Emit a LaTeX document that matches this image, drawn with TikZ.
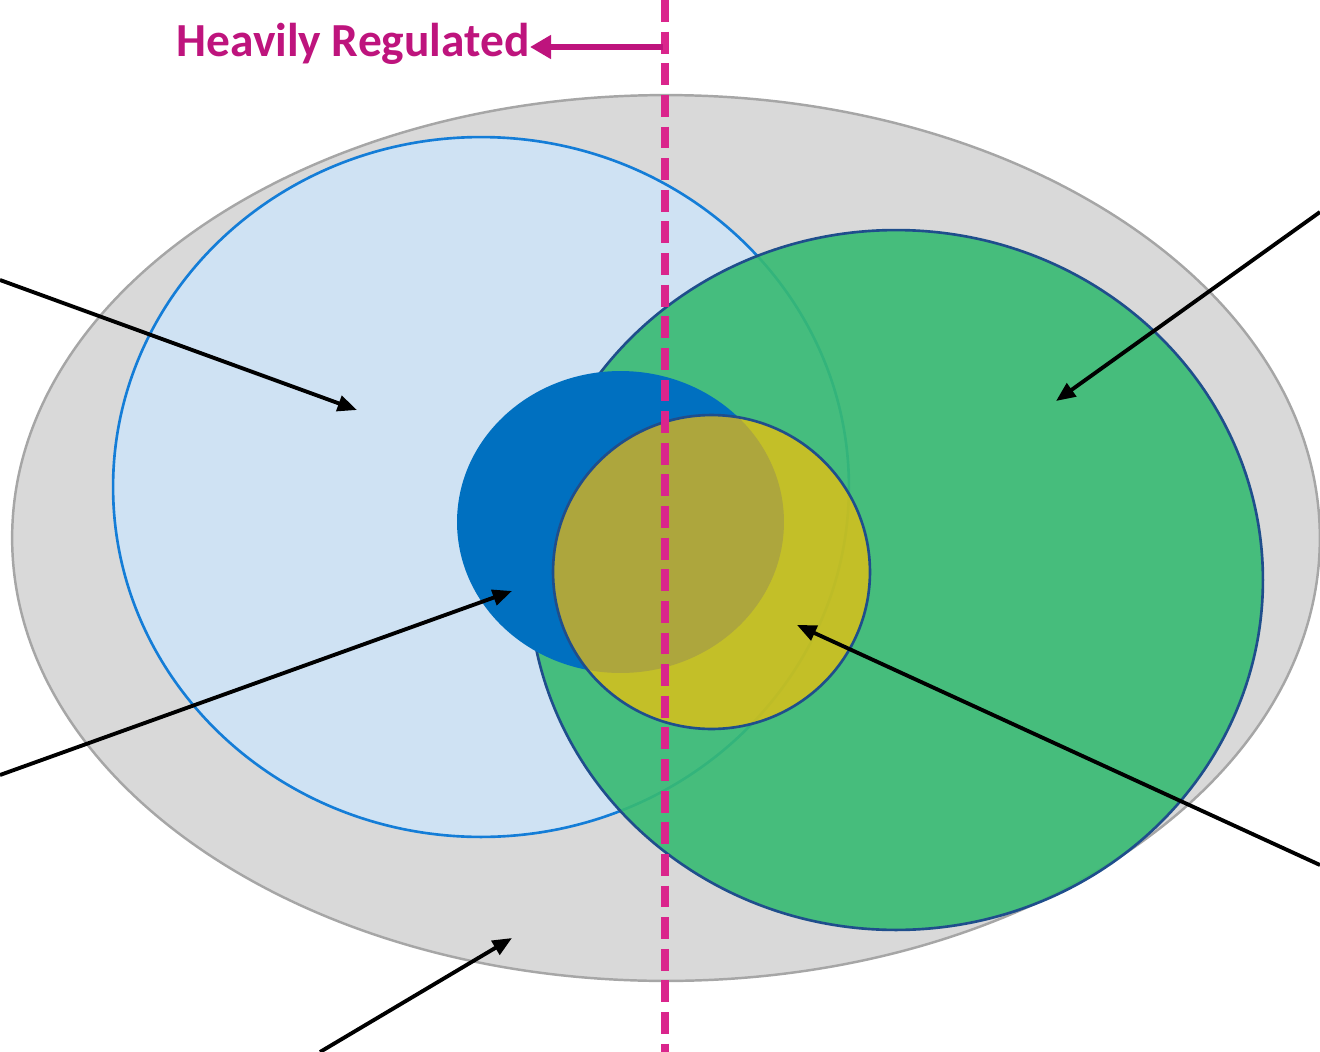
\documentclass[tikz,border=0pt]{standalone}
\usepackage{fontspec}
\setmainfont{Carlito}
\usetikzlibrary{arrows.meta}
\definecolor{grayfill}{RGB}{217,217,217}
\definecolor{graydraw}{RGB}{166,166,166}
\definecolor{lblue}{RGB}{207,226,243}
\definecolor{lbluedraw}{RGB}{20,125,215}
\definecolor{greenfill}{RGB}{55,186,114}
\definecolor{darkedge}{RGB}{31,78,140}
\definecolor{dblue}{RGB}{0,112,192}
\definecolor{gold}{RGB}{255,192,0}
\definecolor{pinkline}{RGB}{218,37,140}
\definecolor{magtext}{RGB}{190,20,125}
\tikzset{
  pointer/.style={draw=black, line width=2.2pt, -{Triangle[length=11pt,width=9pt]}},
  regarrow/.style={draw=magtext, line width=3.2pt, -{Triangle[length=12pt,width=13pt]}},
}
\begin{document}
\begin{tikzpicture}[x=0.02cm,y=-0.02cm]
\useasboundingbox (0,0) rectangle (1320,1052);
% outer gray ellipse
\fill[grayfill] (666,538) ellipse [x radius=13.08cm, y radius=8.86cm];
\draw[graydraw, line width=1.4pt] (666,538) ellipse [x radius=13.08cm, y radius=8.86cm];
% light blue circle
\fill[lblue] (481,487) ellipse [x radius=7.36cm, y radius=7.0cm];
\draw[lbluedraw, line width=1.5pt] (481,487) ellipse [x radius=7.36cm, y radius=7.0cm];
% green ellipse
\fill[greenfill, fill opacity=0.9] (896,580) ellipse [x radius=7.34cm, y radius=7.0cm];
\draw[darkedge, line width=1.5pt] (896,580) ellipse [x radius=7.34cm, y radius=7.0cm];
% dark blue ellipse
\fill[dblue] (620.5,522) ellipse [x radius=3.27cm, y radius=3.02cm];
% yellow circle
\fill[gold, fill opacity=0.68] (711.5,572) ellipse [x radius=3.17cm, y radius=3.14cm];
\draw[darkedge, line width=1.5pt] (711.5,572) ellipse [x radius=3.17cm, y radius=3.14cm];
% dashed divider
\coordinate (divtop) at (665,0);
\coordinate (divbot) at (665,1052);
\draw[pinkline, line width=4pt, dash pattern=on 12.5pt off 5.5pt] (divtop) -- (divbot);
% Heavily Regulated label
\node[anchor=east, inner sep=0pt, text=magtext, font=\bfseries\fontsize{27}{29}\selectfont] (reg) at (530,44) {Heavily Regulated};
\coordinate (regstart) at (663,47);
\draw[regarrow] (regstart) -- (reg.east |- regstart);
% pointer arrows
\coordinate (p1s) at (0,280);   \coordinate (p1e) at (357,410);
\coordinate (p2s) at (0,775);   \coordinate (p2e) at (512,591);
\coordinate (p3s) at (320,1052);\coordinate (p3e) at (512,938);
\coordinate (p4s) at (1320,212);\coordinate (p4e) at (1056,401);
\coordinate (p5s) at (1320,865);\coordinate (p5e) at (797,625);
\draw[pointer] (p1s) -- (p1e);
\draw[pointer] (p2s) -- (p2e);
\draw[pointer] (p3s) -- (p3e);
\draw[pointer] (p4s) -- (p4e);
\draw[pointer] (p5s) -- (p5e);
\end{tikzpicture}
\end{document}
